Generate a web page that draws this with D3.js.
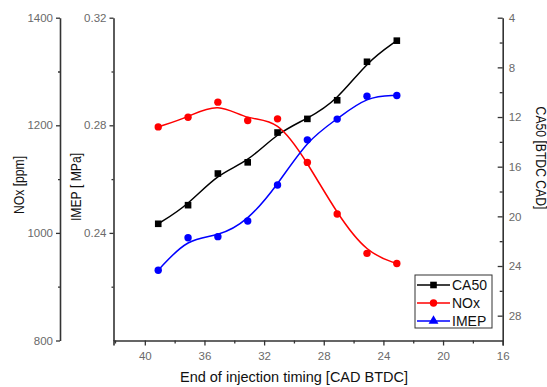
<!DOCTYPE html>
<html>
<head>
<meta charset="utf-8">
<script src="https://cdn.jsdelivr.net/npm/d3@7"></script>
<style>
  html, body { margin: 0; padding: 0; background: #fff; }
  svg { display: block; font-family: "Liberation Sans", Arial, sans-serif; }
</style>
</head>
<body>
<svg id="chart" width="547" height="387"></svg>
<script>
// ---- data ----
const injTiming = [39.1, 37.1, 35.1, 33.1, 31.1, 29.1, 27.1, 25.1, 23.1];
const ca50 = [20.6, 19.1, 16.55, 15.65, 13.25, 12.15, 10.65, 7.55, 5.85];
const nox = [1197, 1215, 1243, 1209, 1212, 1131, 1035, 962, 943];
const imep = [0.2261, 0.2382, 0.2386, 0.2444, 0.2578, 0.2746, 0.2823, 0.2908, 0.2911];

const xTicks = [40, 36, 32, 28, 24, 20, 16];
const xMinor = [42, 38, 34, 30, 26, 22, 18];
const noxTicks = [800, 1000, 1200, 1400];
const noxMinor = [900, 1100, 1300];
const imepTicks = [0.24, 0.28, 0.32];
const imepMinor = [0.22, 0.26, 0.30];
const ca50Ticks = [4, 8, 12, 16, 20, 24, 28];
const ca50Minor = [6, 10, 14, 18, 22, 26];

const seriesNames = ["CA50", "NOx", "IMEP"];
const seriesColors = ["#000000", "#ff0000", "#0000ff"];

// ---- layout ----
const svg = d3.select("#chart");
const plotTop = 17.7, plotBottom = 340.5;
const xLeft = 113.5, xRight = 502.7;
const noxAxisX = 60;

const x = d3.scaleLinear().domain([42.1, 16]).range([xLeft, xRight]);
const yNox = d3.scaleLinear().domain([800, 1400]).range([plotBottom, plotTop]);
const yImep = d3.scaleLinear().domain([0.20, 0.32]).range([plotBottom, plotTop]);
const yCa = d3.scaleLinear().domain([4, 30]).range([plotTop, plotBottom]);

const axisColor = "#333333";
const labelColor = "#6a6a6a";

function styleAxis(g) {
  g.selectAll("path.domain").attr("stroke", axisColor).attr("stroke-width", 1.6);
  g.selectAll(".tick line").attr("stroke", axisColor).attr("stroke-width", 1.3);
  g.selectAll(".tick text").attr("fill", labelColor).style("font-size", "11.5px")
    .style("font-family", '"Liberation Sans", Arial, sans-serif');
}

// X axis
const gx = svg.append("g").attr("transform", `translate(0,${plotBottom})`)
  .call(d3.axisBottom(x).tickValues(xTicks).tickSize(5).tickPadding(6).tickFormat(d3.format("d")));
styleAxis(gx);
const gxm = svg.append("g").attr("transform", `translate(0,${plotBottom})`)
  .call(d3.axisBottom(x).tickValues(xMinor).tickSize(3).tickFormat(""));
styleAxis(gxm); gxm.select("path.domain").remove();

// NOx axis
const gn = svg.append("g").attr("transform", `translate(${noxAxisX},0)`)
  .call(d3.axisLeft(yNox).tickValues(noxTicks).tickSizeInner(4).tickSizeOuter(0).tickPadding(3).tickFormat(d3.format("d")));
styleAxis(gn);
const gnm = svg.append("g").attr("transform", `translate(${noxAxisX},0)`)
  .call(d3.axisLeft(yNox).tickValues(noxMinor).tickSize(2).tickFormat(""));
styleAxis(gnm); gnm.select("path.domain").remove();

// IMEP axis
const gi = svg.append("g").attr("transform", `translate(${xLeft},0)`)
  .call(d3.axisLeft(yImep).tickValues(imepTicks).tickSizeInner(4).tickSizeOuter(0).tickPadding(3).tickFormat(d3.format(".2f")));
styleAxis(gi);
const gim = svg.append("g").attr("transform", `translate(${xLeft},0)`)
  .call(d3.axisLeft(yImep).tickValues(imepMinor).tickSize(2).tickFormat(""));
styleAxis(gim); gim.select("path.domain").remove();

// CA50 axis (right, inverted, ticks inward)
const gc = svg.append("g").attr("transform", `translate(${xRight},0)`)
  .call(d3.axisRight(yCa).tickValues(ca50Ticks).tickSizeInner(-5).tickSizeOuter(0).tickPadding(6).tickFormat(d3.format("d")));
styleAxis(gc);
const gcm = svg.append("g").attr("transform", `translate(${xRight},0)`)
  .call(d3.axisRight(yCa).tickValues(ca50Minor).tickSize(-3).tickFormat(""));
styleAxis(gcm); gcm.select("path.domain").remove();

// Axis titles (rotated titles are a little compressed along their length)
svg.append("text").attr("transform", "translate(24,185) rotate(-90) scale(0.84,1)")
  .attr("text-anchor", "middle").style("font-size", "14.5px").attr("fill", "#111").text("NOx [ppm]");
svg.append("text").attr("transform", "translate(81,187) rotate(-90) scale(0.84,1)")
  .attr("text-anchor", "middle").style("font-size", "14.5px").attr("fill", "#111").text("IMEP [ MPa]");
svg.append("text").attr("transform", "translate(535.5,158) rotate(90) scale(0.84,1)")
  .attr("text-anchor", "middle").style("font-size", "14.5px").attr("fill", "#111").text("CA50 [BTDC CAD]");
svg.append("text").attr("x", 294).attr("y", 382)
  .attr("text-anchor", "middle").style("font-size", "14.5px").attr("fill", "#111").text("End of injection timing [CAD BTDC]");

// ---- series ----
const pts = (ys, yScale) => injTiming.map((t, i) => [x(t), yScale(ys[i])]);
const line = d3.line().curve(d3.curveBasis);

const series = [
  { data: pts(ca50, yCa), color: seriesColors[0], marker: "square" },
  { data: pts(nox, yNox), color: seriesColors[1], marker: "circle" },
  { data: pts(imep, yImep), color: seriesColors[2], marker: "circle" }
];

series.forEach(s => {
  svg.append("path").attr("d", line(s.data)).attr("fill", "none")
    .attr("stroke", s.color).attr("stroke-width", 1.5);
});
series.forEach(s => {
  const g = svg.append("g");
  if (s.marker === "square") {
    g.selectAll("rect").data(s.data).join("rect")
      .attr("x", d => d[0] - 3.3).attr("y", d => d[1] - 3.3)
      .attr("width", 6.6).attr("height", 6.6).attr("fill", s.color);
  } else {
    g.selectAll("circle").data(s.data).join("circle")
      .attr("cx", d => d[0]).attr("cy", d => d[1]).attr("r", 3.7).attr("fill", s.color);
  }
});

// ---- legend ----
const lg = svg.append("g");
lg.append("rect").attr("x", 415).attr("y", 275).attr("width", 77).attr("height", 53)
  .attr("fill", "#fff").attr("stroke", "#333").attr("stroke-width", 1);
const legendMarkers = ["square", "circle", "triangle"];
seriesNames.forEach((name, i) => {
  const cy = 285 + i * 18;
  lg.append("line").attr("x1", 417).attr("x2", 450).attr("y1", cy).attr("y2", cy)
    .attr("stroke", seriesColors[i]).attr("stroke-width", 1.3);
  const m = legendMarkers[i];
  if (m === "square") {
    lg.append("rect").attr("x", 433.5 - 3.3).attr("y", cy - 3.3).attr("width", 6.6).attr("height", 6.6).attr("fill", seriesColors[i]);
  } else if (m === "circle") {
    lg.append("circle").attr("cx", 433.5).attr("cy", cy).attr("r", 3.7).attr("fill", seriesColors[i]);
  } else {
    lg.append("path").attr("d", d3.symbol(d3.symbolTriangle, 42)()).attr("transform", `translate(433.5,${cy})`).attr("fill", seriesColors[i]);
  }
  lg.append("text").attr("x", 452).attr("y", cy + 5).style("font-size", "14px").attr("fill", "#111").text(name);
});
</script>
</body>
</html>
